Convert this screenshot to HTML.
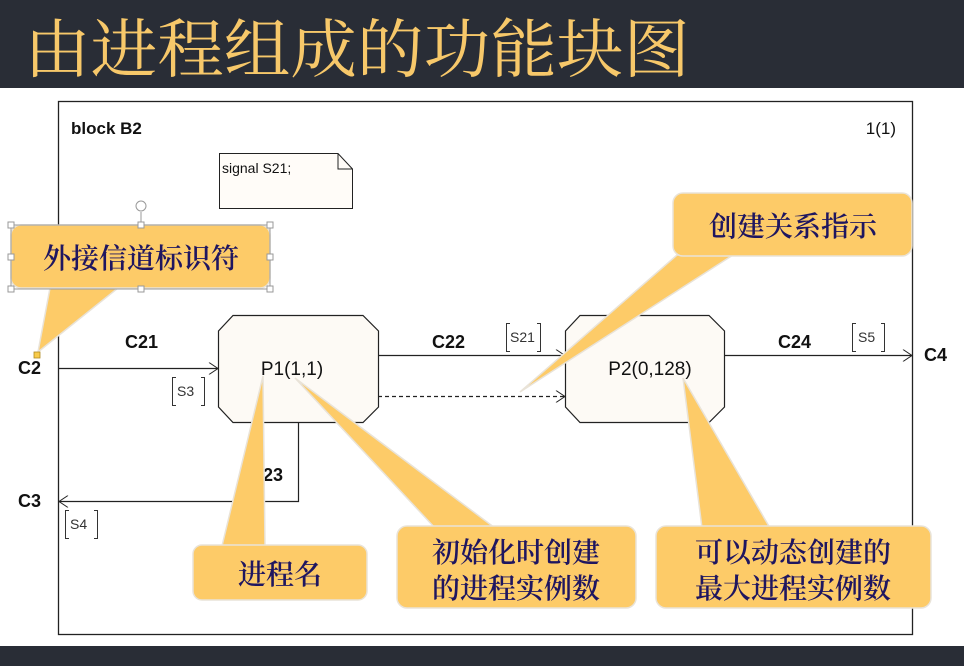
<!DOCTYPE html>
<html><head><meta charset="utf-8"><style>
html,body{margin:0;padding:0;background:#fff;}
svg{display:block;}
.s{font-family:"Liberation Sans","Noto Sans CJK SC",sans-serif;}
.c{font-family:"Liberation Serif","Noto Serif CJK SC",serif;fill:#1f1660;font-weight:600;}
</style></head><body>
<svg width="964" height="666" viewBox="0 0 964 666" xmlns="http://www.w3.org/2000/svg">
<defs>
<marker id="ar" markerWidth="12" markerHeight="12" refX="10" refY="6" orient="auto" markerUnits="userSpaceOnUse">
<path d="M1,0 L10,6 L1,12" fill="none" stroke="#222" stroke-width="1"/></marker>
</defs>
<rect x="0" y="0" width="964" height="88" fill="#292d36"/>
<text x="24" y="72" font-size="64" fill="#f7c86a" textLength="666" lengthAdjust="spacingAndGlyphs" style="font-family:'Noto Serif CJK SC',serif">由进程组成的功能块图</text>
<rect x="0" y="646" width="964" height="20" fill="#292d36"/>

<rect x="58.5" y="101.5" width="854" height="533" fill="#fff" stroke="#222" stroke-width="1.3"/>
<text x="71" y="134" class="s" font-size="17" font-weight="bold" fill="#111">block B2</text>
<text x="896" y="134" class="s" font-size="17" text-anchor="end" fill="#111">1(1)</text>

<path d="M219.5,153.5 H338 L352.5,169 V208.5 H219.5 Z" fill="#fffcf8" stroke="#222"/>
<path d="M338,153.5 V169 H352.5" fill="none" stroke="#222"/>
<text x="222" y="173" class="s" font-size="14" fill="#111">signal S21;</text>

<path d="M233,315.5 H363 L378.5,331 V407 L363,422.5 H233 L218.5,407 V331 Z" fill="#fdfaf5" stroke="#222" stroke-width="1.2"/>
<path d="M580,315.5 H709 L724.5,331 V407 L709,422.5 H580 L565.5,407 V331 Z" fill="#fdfaf5" stroke="#222" stroke-width="1.2"/>
<text x="292" y="375" class="s" font-size="19" text-anchor="middle" fill="#111">P1(1,1)</text>
<text x="650" y="375" class="s" font-size="19" text-anchor="middle" fill="#111">P2(0,128)</text>

<line x1="58" y1="368.5" x2="218" y2="368.5" stroke="#222" stroke-width="1.2" marker-end="url(#ar)"/>
<line x1="378" y1="355.5" x2="565" y2="355.5" stroke="#222" stroke-width="1.2" marker-end="url(#ar)"/>
<line x1="378" y1="396.5" x2="565" y2="396.5" stroke="#222" stroke-width="1.2" stroke-dasharray="4,3" marker-end="url(#ar)"/>
<line x1="724" y1="355.5" x2="912" y2="355.5" stroke="#222" stroke-width="1.2" marker-end="url(#ar)"/>
<path d="M298.5,422 V501.5 H59" fill="none" stroke="#222" stroke-width="1.2" marker-end="url(#ar)"/>

<g class="s" font-size="18" font-weight="bold" fill="#111">
<text x="125" y="348">C21</text>
<text x="432" y="348">C22</text>
<text x="778" y="348">C24</text>
<text x="250" y="481">C23</text>
<text x="18" y="374">C2</text>
<text x="18" y="507">C3</text>
<text x="924" y="361">C4</text>
</g>
<g class="s" font-size="14" fill="#333" stroke-width="1">
<path d="M176,377.5 h-3.5 v28 h3.5 M201,377.5 h3.5 v28 h-3.5" fill="none" stroke="#333"/>
<text x="177" y="396" stroke="none">S3</text>
<path d="M69,510.5 h-3.5 v28 h3.5 M94,510.5 h3.5 v28 h-3.5" fill="none" stroke="#333"/>
<text x="70" y="529" stroke="none">S4</text>
<path d="M510,323.5 h-3.5 v28 h3.5 M537,323.5 h3.5 v28 h-3.5" fill="none" stroke="#333"/>
<text x="510" y="342" stroke="none">S21</text>
<path d="M856,323.5 h-3.5 v28 h3.5 M881,323.5 h3.5 v28 h-3.5" fill="none" stroke="#333"/>
<text x="858" y="342" stroke="none">S5</text>
</g>

<g fill="#fdcb68" stroke="#e9e3d8" stroke-width="1.5">
<path d="M50,288 L118,288 L38,352 Z"/>
<rect x="11" y="225" width="259" height="63" rx="10"/>
<path d="M677,255 L733,255 L520,392 Z"/>
<rect x="673" y="193" width="239" height="63" rx="10"/>
<path d="M222,546 L265,546 L263,376 Z"/>
<rect x="193" y="545" width="174" height="55" rx="9"/>
<path d="M435,528 L495,528 L295,378 Z"/>
<rect x="397" y="526" width="239" height="82" rx="10"/>
<path d="M702,528 L770,528 L683,378 Z"/>
<rect x="656" y="526" width="275" height="82" rx="10"/>
</g>
<g fill="#fdcb68">
<rect x="12" y="226" width="257" height="61" rx="9"/>
<rect x="674" y="194" width="237" height="61" rx="9"/>
<rect x="194" y="546" width="172" height="53" rx="8"/>
<rect x="398" y="527" width="237" height="80" rx="9"/>
<rect x="657" y="527" width="273" height="80" rx="9"/>
</g>
<g fill="#fff" stroke="#999" stroke-width="1">
<rect x="11" y="225" width="259" height="64" fill="none"/>
<line x1="141" y1="212" x2="141" y2="225"/>
<circle cx="141" cy="206" r="5"/>
<rect x="8" y="222" width="6" height="6"/><rect x="138" y="222" width="6" height="6"/><rect x="267" y="222" width="6" height="6"/>
<rect x="8" y="254" width="6" height="6"/><rect x="267" y="254" width="6" height="6"/>
<rect x="8" y="286" width="6" height="6"/><rect x="138" y="286" width="6" height="6"/><rect x="267" y="286" width="6" height="6"/>
</g>
<rect x="34" y="352" width="6" height="6" fill="#f8cb4a" stroke="#b08a20" stroke-width="0.8"/>

<g class="c" font-size="28" text-anchor="middle">
<text x="141" y="268">外接信道标识符</text>
<text x="793" y="236">创建关系指示</text>
<text x="280" y="584">进程名</text>
<text x="516" y="562">初始化时创建</text>
<text x="516" y="598">的进程实例数</text>
<text x="793" y="562">可以动态创建的</text>
<text x="793" y="598">最大进程实例数</text>
</g>
</svg>
</body></html>
